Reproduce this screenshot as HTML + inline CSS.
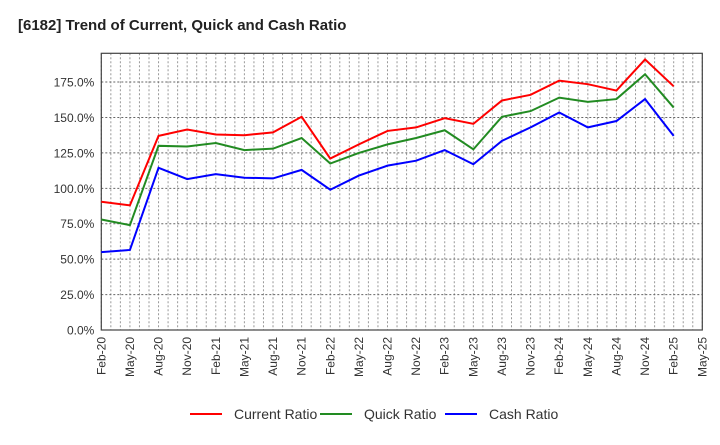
<!DOCTYPE html>
<html><head><meta charset="utf-8"><style>
body{margin:0;background:#fff;font-family:"Liberation Sans",sans-serif;}
svg text{font-family:"Liberation Sans",sans-serif;}
</style></head><body>
<svg id="chart" width="720" height="440" xmlns="http://www.w3.org/2000/svg">
<text x="18" y="30" font-size="15" font-weight="bold" fill="#222">[6182]  Trend of Current, Quick and Cash Ratio</text>
<g id="grid"></g><g id="axes"></g><g id="series"></g><g id="legend"></g>
</svg>
<script>
const categories=["Feb-20","May-20","Aug-20","Nov-20","Feb-21","May-21","Aug-21","Nov-21","Feb-22","May-22","Aug-22","Nov-22","Feb-23","May-23","Aug-23","Nov-23","Feb-24","May-24","Aug-24","Nov-24","Feb-25","May-25"];
const currentRatio=[90.5,88,137,141.5,138,137.5,139.5,150.5,121,131,140.5,143,149.5,145.5,162,166,176,173.5,169,191,172];
const quickRatio=[78,74,130,129.5,132,127,128,135.5,117.5,125,131,135.5,141,127.5,150.5,154.5,164,161,163,180.5,157];
const cashRatio=[55,56.5,114.5,106.5,110,107.5,107,113,99,109,116,119.5,127,117,133.5,143,153.5,143,147.5,163,137];
const yTicks=[0,25,50,75,100,125,150,175];
const NS="http://www.w3.org/2000/svg";
const L=101.3,R=702.3,T=53.3,B=330,YMAX=195.3;
const x=i=>L+(R-L)*i/(categories.length-1);
const y=v=>B-(B-T)*v/YMAX;
function mk(tag,attrs,parent){const e=document.createElementNS(NS,tag);for(const k in attrs)e.setAttribute(k,attrs[k]);document.getElementById(parent).appendChild(e);return e;}
// monthly vertical grid
for(let m=0;m<=63;m++){const xx=L+(R-L)*m/63;
 const g=mk('line',{x1:xx,x2:xx,y1:T,y2:B,stroke:'#999','stroke-dasharray':'2,2','stroke-width':1},'grid');
 
 }
yTicks.forEach(v=>{
 const g=mk('line',{x1:L,x2:R,y1:y(v),y2:y(v),stroke:'#666','stroke-dasharray':'2,2','stroke-width':1},'grid');
 
 
 const t=mk('text',{x:L-7,y:y(v)+4.5,'text-anchor':'end','font-size':12,fill:'#333'},'axes');
 
 
 t.textContent=v.toFixed(1)+'%';
});
const fr=mk('rect',{x:L,y:T,width:R-L,height:B-T,fill:'none',stroke:'#444','stroke-width':1.2},'axes');


categories.forEach((c,i)=>{
 const t=mk('text',{transform:`translate(${x(i)+4},${B+7}) rotate(-90)`,'text-anchor':'end','font-size':12,fill:'#333'},'axes');
 
 
 t.textContent=c;
});
const series=[["current-ratio-line",currentRatio,"#ff0000","Current Ratio"],["quick-ratio-line",quickRatio,"#228b22","Quick Ratio"],["cash-ratio-line",cashRatio,"#0000ff","Cash Ratio"]];
series.forEach(([n,d,col])=>{
 const p=mk('polyline',{points:d.map((v,i)=>x(i)+','+y(v)).join(' '),fill:'none',stroke:col,'stroke-width':2},'series');
 
 
});
const lx=[190,320,445];
series.forEach(([n,d,col,label],k)=>{
 const l=mk('line',{x1:lx[k],x2:lx[k]+32,y1:414,y2:414,stroke:col,'stroke-width':2},'legend');
 
 
 const t=mk('text',{x:lx[k]+44,y:419,'font-size':14,fill:'#333'},'legend');
 
 
 t.textContent=label;
});
</script>
</body></html>
